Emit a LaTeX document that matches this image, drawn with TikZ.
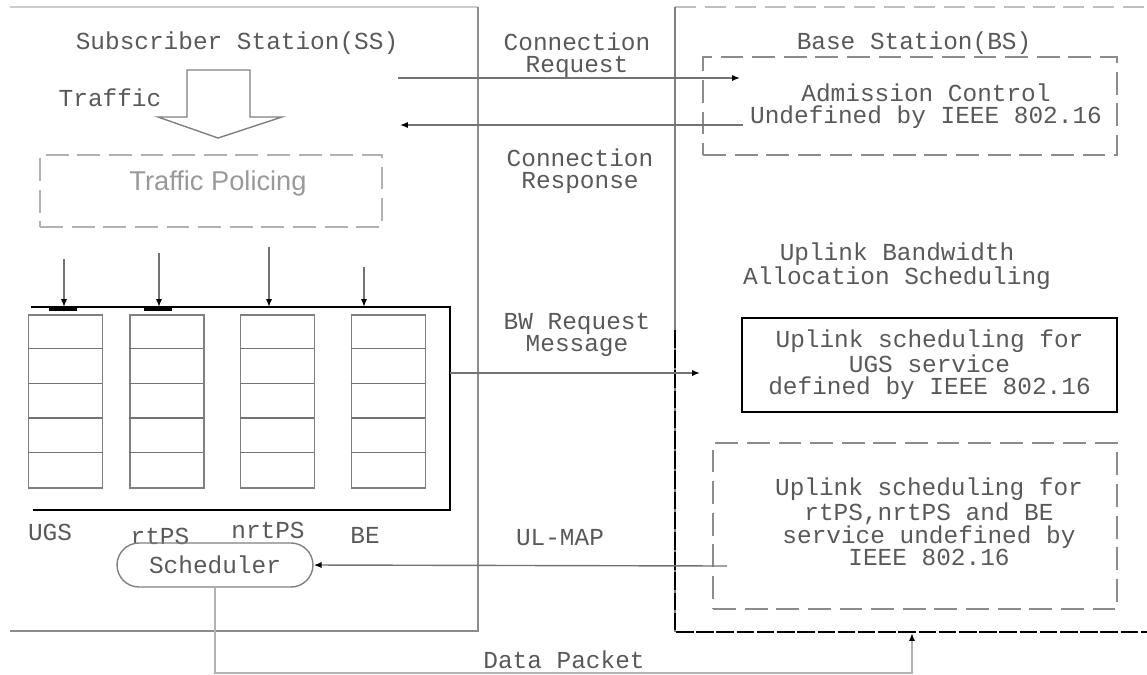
\documentclass[tikz,border=0pt]{standalone}
\usepackage{fontspec}
\setmainfont{Liberation Mono}
\setsansfont{Liberation Sans}
\usetikzlibrary{arrows.meta}

\begin{document}
\begin{tikzpicture}[
  x=0.02cm, y=-0.02cm,
  txt/.style={font=\fontsize{13.9}{12.8}\selectfont,text=black!65,align=center,inner sep=0pt},
  line/.style={black!55,line width=0.8pt},
  arr/.style={line,-{Latex[length=4.5pt,width=3.5pt,black]}},
  dbox/.style={draw=black!45,line width=0.8pt,dash pattern=on 13pt off 5pt,inner sep=0pt},
  queue/.style={draw=black!50,line width=1pt,minimum width=1.48cm,minimum height=3.46cm,inner sep=0pt}
]
  \useasboundingbox (0,0) rectangle (1147,674);
  % panels
  \draw[black!20,line width=0.8pt] (10,7) -- (478,7);
  \draw[black!45,line width=1.2pt] (478,7) -- (478,631) -- (10,631);
  \draw[black!25,line width=0.8pt,dash pattern=on 12pt off 5pt] (675,7) -- (1147,7);
  \draw[black!50,line width=1pt] (675,7) -- (675,632);
  \draw[black,line width=1pt,dash pattern=on 10pt off 1.5pt] (675,330) -- (675,632) -- (1147,632);
  \node[txt] (sstitle) at (237,43) {Subscriber Station(SS)};
  \node[txt] (bstitle) at (914,43) {Base Station(BS)};

  % subscriber station
  \draw[black!50,line width=0.8pt] (187,70) -- (250,70) -- (250,117) -- (282,117)
    -- (218,138) -- (158,117) -- (187,117) -- cycle;
  \node[txt] (traffic) at (110,98) {Traffic};
  \node[dbox,draw=black!30,minimum width=6.84cm,minimum height=1.44cm] (police) at (211,191) {};
  \node[font=\sffamily\fontsize{15.5}{17}\selectfont,text=black!40] (policetxt) at (218,183) {Traffic Policing};

  \foreach \n/\cx in {1/65.5,2/167,3/277.5,4/388.5}{
    \node[queue] (q\n) at (\cx,401.5) {};
    \foreach \k in {1,...,4}
      \draw[line] (q\n.north west) ++(0,34.6*\k) -- ++(74,0);
  }
  \draw[black,line width=1.2pt] (31,307) -- (450,307) -- (450,510) -- (33,510);
  \draw[black,line width=2.5pt] (49,309) -- (77,309);
  \draw[black,line width=2.5pt] (144,309) -- (172,309);
  \foreach \n/\x/\y in {1/64/259,2/159/253,3/269/247,4/364/267}{
    \coordinate (in\n) at (\x,\y);
    \coordinate (tp\n) at (\x,307);
    \draw[arr] (in\n) -- (tp\n);
  }
  \node[txt] (ugs) at (50,532) {UGS};
  \node[txt] (rtps) at (160,536) {rtPS};
  \node[txt] (nrtps) at (268,530) {nrtPS};
  \node[txt] (be) at (365,535) {BE};
  \node[txt,draw=black!50,line width=0.8pt,rounded corners=0.44cm,minimum width=3.92cm,minimum height=0.88cm] (sched) at (215,565) {Scheduler};

  % base station
  \node[dbox,minimum width=8.28cm,minimum height=1.96cm] (adm) at (910,106) {};
  \node[txt] (admtxt) at (926,106) {Admission Control\\Undefined by IEEE 802.16};
  \node[txt] (ulbw) at (897,266) {Uplink Bandwidth\\Allocation Scheduling};
  \node[txt,draw=black,line width=1.2pt,minimum width=7.5cm,minimum height=1.88cm] (ugsbox) at (929.5,365)
    {Uplink scheduling for\\UGS service\\defined by IEEE 802.16};
  \node[dbox,minimum width=8.08cm,minimum height=3.32cm] (rtbox) at (915,526) {};
  \node[txt] (rttxt) at (929,522) {Uplink scheduling for\\rtPS,nrtPS and BE\\service undefined by\\IEEE 802.16};

  % messages
  \coordinate (creq-s) at (398,78);
  \coordinate (creq-e) at (740,78);
  \coordinate (cres-s) at (743,125);
  \coordinate (cres-e) at (400,125);
  \coordinate (bw-s) at (450,373);
  \coordinate (bw-e) at (700,373);
  \coordinate (ulm-s) at (727,566);
  \coordinate (dp-e) at (912,633);
  \draw[arr] (creq-s) -- (creq-e);
  \draw[arr] (cres-s) -- (cres-e);
  \draw[arr] (bw-s) -- (bw-e);
  \draw[arr] (ulm-s) -- (sched.east);
  \draw[black!30,line width=1.2pt,-{Latex[length=4.5pt,width=3.5pt,black]}] (sched.south) -- ++(0,85) -| (dp-e);
  \node[txt] (creq) at (577,55) {Connection\\Request};
  \node[txt] (cres) at (580,171) {Connection\\Response};
  \node[txt] (bwreq) at (577,335) {BW Request\\Message};
  \node[txt] (ulmap) at (560,538) {UL-MAP};
  \node[txt] (dpkt) at (564,660) {Data Packet};
\end{tikzpicture}
\end{document}
